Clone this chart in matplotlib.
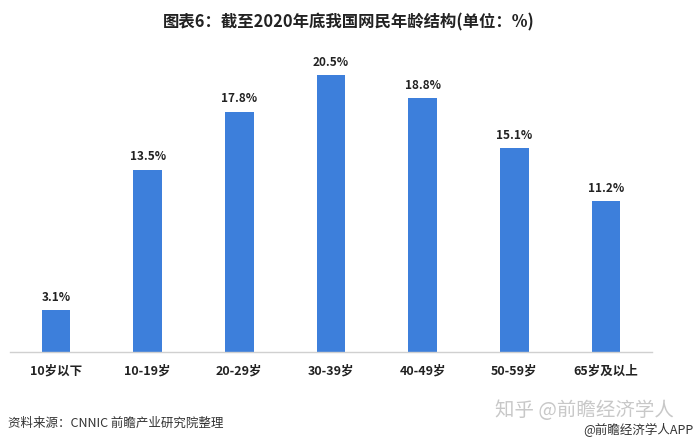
import matplotlib
matplotlib.use("Agg")
import matplotlib.pyplot as plt

plt.rcParams['font.family'] = ['Noto Sans CJK SC', 'DejaVu Sans']

categories = ["10岁以下", "10-19岁", "20-29岁", "30-39岁", "40-49岁", "50-59岁", "65岁及以上"]
values = [3.1, 13.5, 17.8, 20.5, 18.8, 15.1, 11.2]
value_labels = ["3.1%", "13.5%", "17.8%", "20.5%", "18.8%", "15.1%", "11.2%"]

W, H = 700, 445
fig = plt.figure(figsize=(W / 100, H / 100), dpi=100)
fig.patch.set_facecolor("white")

ax = fig.add_axes([10 / W, (H - 352) / H, 642 / W, 297 / H])
x = list(range(len(categories)))
bars = ax.bar(x, values, width=0.31, color="#3d7fdb", zorder=2)
ax.set_xlim(-0.5, len(categories) - 0.5)
ax.set_ylim(0, 22)

for xi, v, lab in zip(x, values, value_labels):
    ax.annotate(lab, (xi, v), xytext=(0, 4.5), textcoords="offset points",
                ha="center", va="bottom", fontsize=8.5, fontweight="bold", color="#222222")

ax.set_xticks(x)
ax.set_xticklabels(categories, fontsize=9, fontweight="bold", color="#222222")
ax.tick_params(axis="x", length=0, pad=9)
ax.set_yticks([])
for s in ["top", "right", "left"]:
    ax.spines[s].set_visible(False)
ax.spines["bottom"].set_color("#d0d0d0")
ax.spines["bottom"].set_linewidth(1.0)

fig.text(349 / W, 1 - 22 / H, "图表6：截至2020年底我国网民年龄结构(单位：%)",
         ha="center", va="center", fontsize=11.8, fontweight="bold", color="#222222")

fig.text(8 / W, 1 - 423 / H, "资料来源：CNNIC 前瞻产业研究院整理",
         ha="left", va="center", fontsize=9, color="#333333")

fig.text(495 / W, 1 - 411 / H, "知乎 @前瞻经济学人",
         ha="left", va="center", fontsize=14, color="#c8c8c8")
fig.text(693 / W, 1 - 430 / H, "@前瞻经济学人APP",
         ha="right", va="center", fontsize=9, color="#333333")

fig.savefig("out.png", dpi=100, facecolor="white")
